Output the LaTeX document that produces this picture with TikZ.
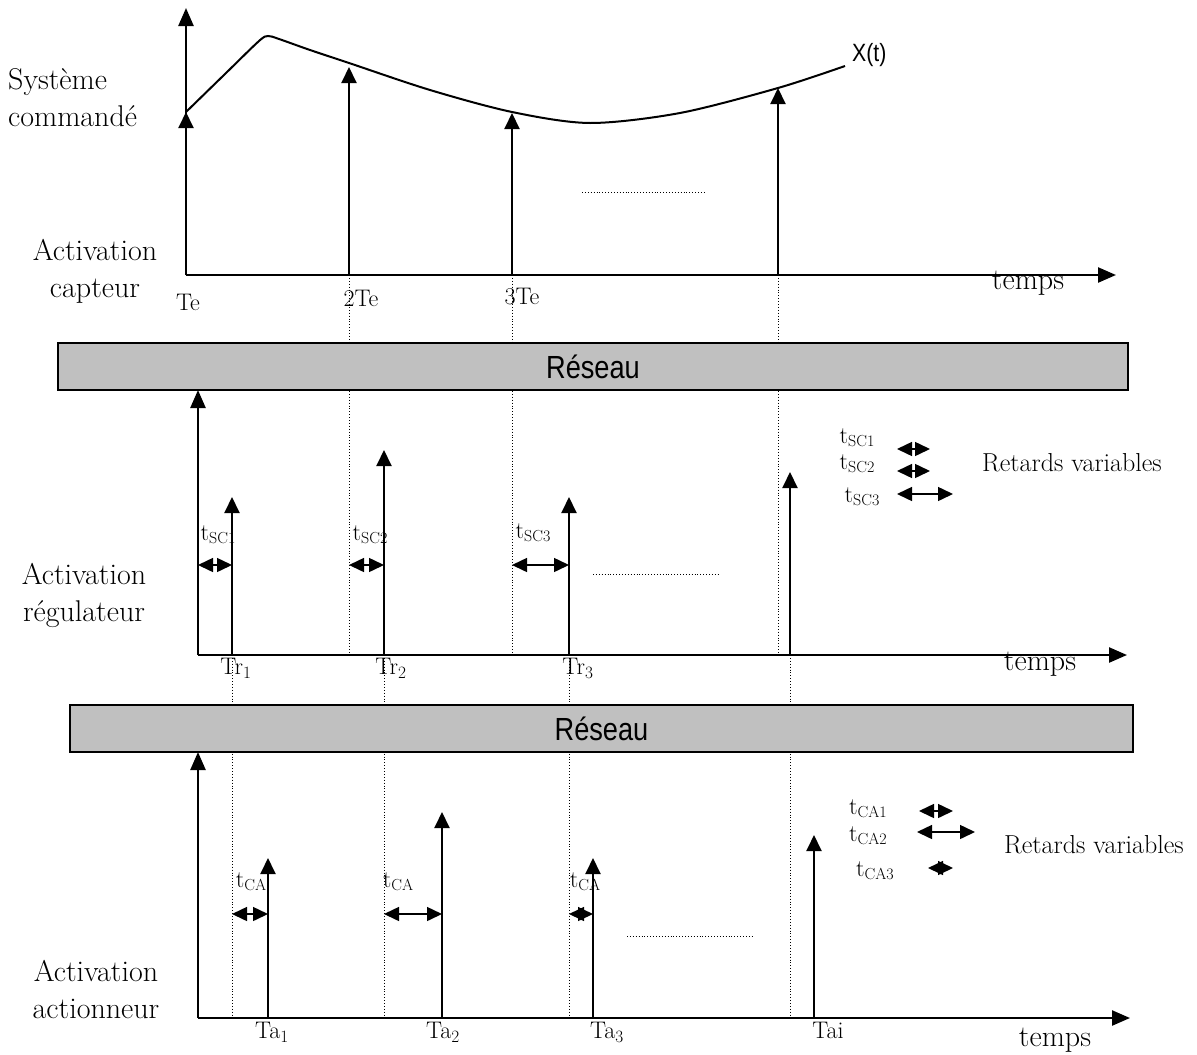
\documentclass[tikz,border=0pt]{standalone}
\usepackage{fontspec}
\newfontfamily\narrowsans[FakeStretch=0.85]{Liberation Sans}
\usetikzlibrary{arrows.meta}
\definecolor{reseaugray}{HTML}{C0C0C0}
\newcommand{\dly}[1]{t\raisebox{-0.3ex}{\fontsize{16}{16}\selectfont #1}}

\begin{document}
\begin{tikzpicture}[x=1pt, y=-1pt,
    axis/.style={line width=2.4pt, -{Triangle[width=15pt,length=18pt]}},
    stem/.style={line width=2pt, -{Triangle[width=15pt,length=16pt]}},
    delay/.style={line width=1.5pt, {Triangle[width=14pt,length=15pt]}-{Triangle[width=14pt,length=15pt]}},
    guide/.style={line width=0.9pt, dotted},
    curve/.style={line width=2pt},
    reseau/.style={draw, line width=2pt, fill=reseaugray, minimum width=1070pt, minimum height=47pt, font=\narrowsans\fontsize{32}{36}\selectfont},
    lbl/.style={font=\fontsize{30}{37}\selectfont, inner sep=0pt},
    tick/.style={font=\fontsize{24}{26}\selectfont, inner sep=0pt},
    note/.style={font=\fontsize{26}{28}\selectfont, inner sep=0pt},
]
\useasboundingbox (0,0) rectangle (1197,1055);

% points of the three time axes
\coordinate (o1) at (186,275);  \coordinate (y1) at (186,8);   \coordinate (x1) at (1116,275);
\coordinate (o2) at (198,655);  \coordinate (y2) at (198,390); \coordinate (x2) at (1127,655);
\coordinate (o3) at (198,1018); \coordinate (y3) at (198,752); \coordinate (x3) at (1130,1018);

% sensor samples
\coordinate (c1) at (186,275); \coordinate (c1t) at (186,112);
\coordinate (c2) at (349,275); \coordinate (c2t) at (349,67);
\coordinate (c3) at (512,275); \coordinate (c3t) at (512,113);
\coordinate (c4) at (778,275); \coordinate (c4t) at (778,88);
% regulator activations
\coordinate (r1) at (232,655); \coordinate (r1t) at (232,497);
\coordinate (r2) at (384,655); \coordinate (r2t) at (384,450);
\coordinate (r3) at (569,655); \coordinate (r3t) at (569,497);
\coordinate (r4) at (790,655); \coordinate (r4t) at (790,472);
% actuator activations
\coordinate (a1) at (268,1018); \coordinate (a1t) at (268,858);
\coordinate (a2) at (442,1018); \coordinate (a2t) at (442,812);
\coordinate (a3) at (593,1018); \coordinate (a3t) at (593,858);
\coordinate (a4) at (814,1018); \coordinate (a4t) at (814,835);

% dotted guides
\draw[guide] (c2) -- (c2 |- o2);
\draw[guide] (c3) -- (c3 |- o2);
\draw[guide] (c4) -- (c4 |- o2);
\draw[guide] (r1) -- (r1 |- o3);
\draw[guide] (r2) -- (r2 |- o3);
\draw[guide] (r3) -- (r3 |- o3);
\draw[guide] (r4) -- (r4 |- o3);

% networks
\node[reseau] (net1) at (593,366.5) {Réseau};
\node[reseau, minimum width=1063pt] (net2) at (601.5,728.5) {Réseau};

% sensor
\draw[axis] (o1) -- (y1);
\draw[axis] (o1) -- (x1);
\draw[stem] (c1) -- (c1t);
\draw[stem] (c2) -- (c2t);
\draw[stem] (c3) -- (c3t);
\draw[stem] (c4) -- (c4t);
\draw[curve] plot[smooth, tension=0.5] coordinates {(186,112) (225,74) (259,41) (268,36) (279,39) (310,50) (349,63) (430,90) (512,112) (590,123) (680,113) (778,88) (845,66)};
\node[font=\narrowsans\fontsize{25}{28}\selectfont, anchor=west, inner sep=0pt] (xt) at (852,55) {X(t)};
\draw[guide] (582,192) -- (706,192);
\node[lbl, anchor=west, align=left] (sys) at (8,98) {Système\\commandé};
\node[lbl, align=center] (cap) at (95,271) {Activation\\capteur};
\node[tick] (te1) at (188,302) {Te};
\node[tick] (te2) at (361,298) {2Te};
\node[tick] (te3) at (522,297) {3Te};
\node[lbl] (tps1) at (1028,283) {temps};

% regulator
\draw[axis] (o2) -- (y2);
\draw[axis] (o2) -- (x2);
\draw[stem] (r1) -- (r1t);
\draw[stem] (r2) -- (r2t);
\draw[stem] (r3) -- (r3t);
\draw[stem] (r4) -- (r4t);
\draw[delay] (o2 |- 0,565) -- (r1 |- 0,565);
\draw[delay] (c2 |- 0,565) -- (r2 |- 0,565);
\draw[delay] (c3 |- 0,565) -- (r3 |- 0,565);
\node[tick] (sc1) at (218,535) {\dly{SC1}};
\node[tick] (sc2) at (370,535) {\dly{SC2}};
\node[tick] (sc3) at (533,533) {\dly{SC3}};
\node[tick] (tr1) at (236,668) {Tr$_1$};
\node[tick] (tr2) at (391,668) {Tr$_2$};
\node[tick] (tr3) at (578,668) {Tr$_3$};
\draw[guide] (593,574) -- (718,574);
\node[lbl, align=center] (reg) at (84,595) {Activation\\régulateur};
\node[lbl] (tps2) at (1040,664) {temps};
\node[tick] (lsc1) at (857,438) {\dly{SC1}};
\node[tick] (lsc2) at (857,464) {\dly{SC2}};
\node[tick] (lsc3) at (862,497) {\dly{SC3}};
\coordinate (k1) at (897,449); \coordinate (k1e) at (930,449);
\coordinate (k2) at (897,471); \coordinate (k2e) at (930,471);
\coordinate (k3) at (897,494); \coordinate (k3e) at (953,494);
\draw[delay] (k1) -- (k1e);
\draw[delay] (k2) -- (k2e);
\draw[delay] (k3) -- (k3e);
\node[note] (rv1) at (1072,463) {Retards variables};

% actuator
\draw[axis] (o3) -- (y3);
\draw[axis] (o3) -- (x3);
\draw[stem] (a1) -- (a1t);
\draw[stem] (a2) -- (a2t);
\draw[stem] (a3) -- (a3t);
\draw[stem] (a4) -- (a4t);
\draw[delay] (r1 |- 0,914) -- (a1 |- 0,914);
\draw[delay] (r2 |- 0,914) -- (a2 |- 0,914);
\draw[delay] (r3 |- 0,914) -- (a3 |- 0,914);
\node[tick] (ca1) at (251,882) {\dly{CA}};
\node[tick] (ca2) at (398,882) {\dly{CA}};
\node[tick] (ca3) at (585,882) {\dly{CA}};
\node[tick] (ta1) at (272,1032) {Ta$_1$};
\node[tick] (ta2) at (443,1032) {Ta$_2$};
\node[tick] (ta3) at (607,1032) {Ta$_3$};
\node[tick] (tai) at (828,1030) {Tai};
\draw[guide] (627,936) -- (752,936);
\node[lbl, align=center] (act) at (96,990) {Activation\\actionneur};
\node[lbl] (tps3) at (1055,1040) {temps};
\node[tick] (lca1) at (868,809) {\dly{CA1}};
\node[tick] (lca2) at (868,836) {\dly{CA2}};
\node[tick] (lca3) at (875,871) {\dly{CA3}};
\coordinate (m1) at (919,811); \coordinate (m1e) at (953,811);
\coordinate (m2) at (917,832); \coordinate (m2e) at (975,832);
\coordinate (m3) at (928,868); \coordinate (m3e) at (953,868);
\draw[delay] (m1) -- (m1e);
\draw[delay] (m2) -- (m2e);
\draw[delay] (m3) -- (m3e);
\node[note] (rv2) at (1094,845) {Retards variables};
\end{tikzpicture}
\end{document}
